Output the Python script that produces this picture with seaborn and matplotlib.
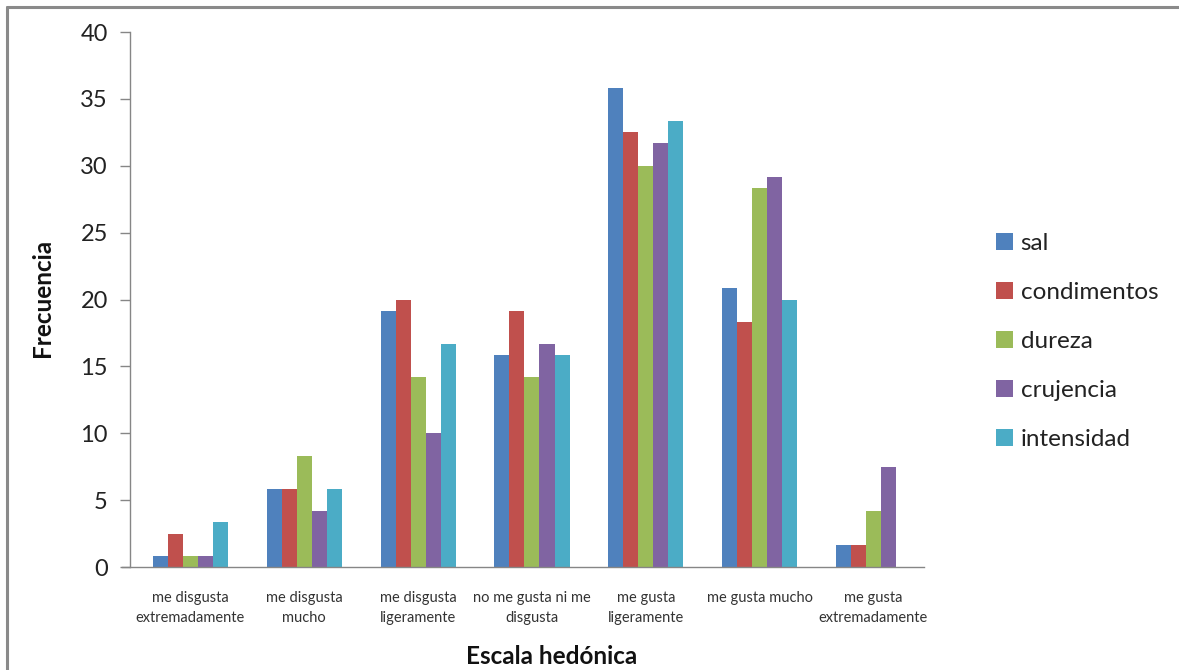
import matplotlib
matplotlib.use("Agg")
import matplotlib.pyplot as plt
from matplotlib.lines import Line2D
from matplotlib.patches import Patch
import seaborn as sns
import pandas as pd

categories = [
    "me disgusta\nextremadamente",
    "me disgusta\nmucho",
    "me disgusta\nligeramente",
    "no me gusta ni me\ndisgusta",
    "me gusta\nligeramente",
    "me gusta mucho",
    "me gusta\nextremadamente",
]
series = ["sal", "condimentos", "dureza", "crujencia", "intensidad"]
sal = [0.83, 5.83, 19.17, 15.83, 35.83, 20.83, 1.67]
condimentos = [2.5, 5.83, 20.0, 19.17, 32.5, 18.33, 1.67]
dureza = [0.83, 8.33, 14.17, 14.17, 30.0, 28.33, 4.17]
crujencia = [0.83, 4.17, 10.0, 16.67, 31.67, 29.17, 7.5]
intensidad = [3.33, 5.83, 16.67, 15.83, 33.33, 20.0, 0.0]
colors = ["#4F81BD", "#C0504D", "#9BBB59", "#8064A2", "#4BACC6"]

rows = []
for name, vals in zip(series, [sal, condimentos, dureza, crujencia, intensidad]):
    for cat, v in zip(categories, vals):
        rows.append({"categoria": cat, "serie": name, "valor": v})
df = pd.DataFrame(rows)

sns.set_theme(style="white")
plt.rcParams["font.family"] = ["Lato", "DejaVu Sans"]

fig = plt.figure(figsize=(11.79, 6.70), dpi=100)
ax = fig.add_axes([0.1103, 0.1537, 0.6734, 0.7985])

sns.barplot(data=df, x="categoria", y="valor", hue="serie", order=categories,
            hue_order=series, palette=colors, width=0.66, gap=0,
            edgecolor="none", linewidth=0, saturation=1, ax=ax, legend=False)

ax.set_xlim(-0.531, 6.444)
ax.set_ylim(0, 40)
ax.set_yticks(range(0, 41, 5))
ax.tick_params(axis="y", which="both", left=True, length=7, width=1,
               color="#868686", labelsize=17, pad=9, labelcolor="#222222")
ax.tick_params(axis="x", bottom=False, labelsize=10.5, pad=11, labelcolor="#333333")
for lbl in ax.get_xticklabels():
    lbl.set_linespacing(1.55)

for side in ["top", "right"]:
    ax.spines[side].set_visible(False)
ax.spines["left"].set_color("#868686")
ax.spines["bottom"].set_color("#868686")
ax.spines["left"].set_linewidth(1)
ax.spines["bottom"].set_linewidth(1)
ax.spines["bottom"].set_bounds(-0.6, 6.444)

ax.set_xlabel("")
ax.set_ylabel("")
fig.text(0.468, 0.02, "Escala hedónica", ha="center", va="center",
         fontsize=17.5, fontweight="bold", color="#111111")
fig.text(0.036, 0.555, "Frecuencia", ha="center", va="center", rotation=90,
         fontsize=17.5, fontweight="bold", color="#111111")

handles = [Patch(facecolor=c, edgecolor="none") for c in colors]
leg = fig.legend(handles, series, loc="center left", bbox_to_anchor=(0.845, 0.49),
                 frameon=False, fontsize=17.5, handlelength=0.7, handleheight=0.7,
                 handletextpad=0.3, labelspacing=1.15, labelcolor="#222222",
                 borderaxespad=0, borderpad=0)

# outer frame (left and top edges)
fig.add_artist(Line2D([0.006, 0.006], [0.0, 0.9895], transform=fig.transFigure,
                      color="#8a8a8a", lw=2.2))
fig.add_artist(Line2D([0.006, 1.0], [0.9895, 0.9895], transform=fig.transFigure,
                      color="#8a8a8a", lw=2.2))

fig.savefig("out.png", dpi=100)
